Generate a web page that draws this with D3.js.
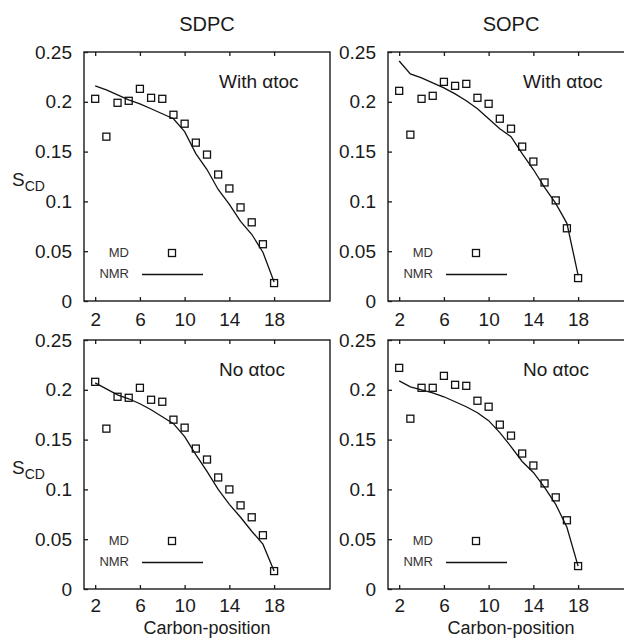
<!DOCTYPE html>
<html>
<head>
<meta charset="utf-8">
<script src="https://cdn.jsdelivr.net/npm/d3@7"></script>
<style>
  body { margin: 0; background: #fff; }
  text { font-family: "Liberation Sans", Arial, sans-serif; fill: #1a1a1a; }
</style>
</head>
<body>
<div id="canvas"></div>
<script>
// carbon positions along the chain
var carbons = [2, 3, 4, 5, 6, 7, 8, 9, 10, 11, 12, 13, 14, 15, 16, 17, 18];

// MD order parameters, one array per panel
var mdSdpcWith = [0.203, 0.165, 0.199, 0.201, 0.213, 0.204, 0.203, 0.187, 0.178, 0.159, 0.147, 0.127, 0.113, 0.094, 0.079, 0.057, 0.018];
var mdSopcWith = [0.211, 0.167, 0.203, 0.206, 0.220, 0.216, 0.218, 0.204, 0.198, 0.183, 0.173, 0.155, 0.140, 0.119, 0.101, 0.073, 0.023];
var mdSdpcNo = [0.208, 0.161, 0.193, 0.192, 0.202, 0.190, 0.188, 0.170, 0.162, 0.141, 0.130, 0.112, 0.100, 0.084, 0.072, 0.054, 0.018];
var mdSopcNo = [0.222, 0.171, 0.202, 0.202, 0.214, 0.205, 0.204, 0.189, 0.183, 0.165, 0.154, 0.136, 0.124, 0.106, 0.092, 0.069, 0.023];

// NMR order parameters
var nmrSdpcWith = [0.216, 0.212, 0.207, 0.202, 0.198, 0.193, 0.188, 0.183, 0.170, 0.148, 0.132, 0.112, 0.097, 0.080, 0.067, 0.049, 0.019];
var nmrSopcWith = [0.241, 0.228, 0.224, 0.219, 0.214, 0.208, 0.201, 0.193, 0.183, 0.173, 0.165, 0.148, 0.132, 0.114, 0.098, 0.078, 0.026];
var nmrSdpcNo = [0.207, 0.201, 0.195, 0.191, 0.186, 0.180, 0.173, 0.166, 0.153, 0.135, 0.118, 0.100, 0.085, 0.072, 0.058, 0.045, 0.018];
var nmrSopcNo = [0.209, 0.203, 0.200, 0.197, 0.193, 0.188, 0.183, 0.177, 0.169, 0.157, 0.143, 0.128, 0.117, 0.102, 0.085, 0.062, 0.023];

var xTicks = [2, 6, 10, 14, 18];
var yTicks = [0, 0.05, 0.1, 0.15, 0.2, 0.25];
var lipids = ["SDPC", "SOPC"];
var rowLabels = ["With \u03B1toc", "No \u03B1toc"];

var width = 624, height = 638;
var pw = 246, ph = 249;
var lefts = [84, 388], tops = [52, 340];

var panels = [
  { row: 0, col: 0, md: mdSdpcWith, nmr: nmrSdpcWith },
  { row: 0, col: 1, md: mdSopcWith, nmr: nmrSopcWith },
  { row: 1, col: 0, md: mdSdpcNo, nmr: nmrSdpcNo },
  { row: 1, col: 1, md: mdSopcNo, nmr: nmrSopcNo }
];

var svg = d3.select("#canvas").append("svg")
  .attr("width", width).attr("height", height);

var x = d3.scaleLinear().domain([1, 23]).range([0, pw]);
var y = d3.scaleLinear().domain([0, 0.25]).range([ph, 0]);

var fmt = d => (d === 0 ? "0" : String(+d.toFixed(2)));

// column titles
lipids.forEach((name, i) => {
  svg.append("text")
    .attr("x", lefts[i] + pw / 2).attr("y", 31)
    .attr("text-anchor", "middle")
    .attr("font-size", 20)
    .text(name);
});

panels.forEach(p => {
  var g = svg.append("g")
    .attr("transform", "translate(" + lefts[p.col] + "," + tops[p.row] + ")");

  // y axis (inward ticks)
  var ya = g.append("g").call(d3.axisLeft(y).tickValues(yTicks).tickFormat(fmt)
    .tickSizeInner(-4).tickSizeOuter(0).tickPadding(12));
  // x axis bottom + mirrored top ticks
  var xa = g.append("g").attr("transform", "translate(0," + ph + ")")
    .call(d3.axisBottom(x).tickValues(xTicks).tickSizeInner(-4).tickSizeOuter(0)
      .tickPadding(p.row === 0 ? 12 : 10));
  var xt = g.append("g")
    .call(d3.axisTop(x).tickValues(xTicks).tickSizeInner(-4).tickSizeOuter(0).tickFormat(""));
  [ya, xa, xt].forEach(a => {
    a.select(".domain").remove();
    a.selectAll("line").attr("stroke", "#1a1a1a").attr("stroke-width", 1.3);
    a.selectAll("text").attr("font-size", 19).attr("font-family", "Liberation Sans, Arial, sans-serif").attr("fill", "#1a1a1a");
  });

  // frame
  g.append("rect")
    .attr("width", pw).attr("height", ph)
    .attr("fill", "none").attr("stroke", "#1a1a1a").attr("stroke-width", 1.4);

  // NMR line
  var line = d3.line().x((d, i) => x(carbons[i])).y(d => y(d));
  g.append("path").datum(p.nmr)
    .attr("d", line)
    .attr("fill", "none").attr("stroke", "#111").attr("stroke-width", 1.3);

  // MD squares
  g.selectAll(".md").data(p.md).enter().append("rect")
    .attr("class", "md")
    .attr("x", (d, i) => x(carbons[i]) - 3.5)
    .attr("y", d => y(d) - 3.5)
    .attr("width", 7).attr("height", 7)
    .attr("fill", "none").attr("stroke", "#111").attr("stroke-width", 1.3);

  // panel label
  g.append("text")
    .attr("x", 135).attr("y", 36)
    .attr("font-size", 19)
    .text(rowLabels[p.row]);

  // legend
  g.append("text").attr("x", 45).attr("y", 205)
    .attr("text-anchor", "end").attr("font-size", 13).style("fill", "#333")
    .text("MD");
  g.append("rect").attr("x", 88 - 3.5).attr("y", 201 - 3.5)
    .attr("width", 7).attr("height", 7)
    .attr("fill", "none").attr("stroke", "#111").attr("stroke-width", 1.3);
  g.append("text").attr("x", 45).attr("y", 226)
    .attr("text-anchor", "end").attr("font-size", 13).style("fill", "#333")
    .text("NMR");
  g.append("line").attr("x1", 58).attr("x2", 119).attr("y1", 222.5).attr("y2", 222.5)
    .attr("stroke", "#111").attr("stroke-width", 1.3);

  // y label on left column
  if (p.col === 0) {
    var lab = svg.append("text")
      .attr("x", 12).attr("y", tops[p.row] + 134)
      .attr("font-size", 19);
    lab.append("tspan").text("S");
    lab.append("tspan").attr("font-size", 14).attr("dy", 5).text("CD");
  }
  // x label on bottom row
  if (p.row === 1) {
    svg.append("text")
      .attr("x", lefts[p.col] + 123).attr("y", 634)
      .attr("text-anchor", "middle").attr("font-size", 18)
      .text("Carbon-position");
  }
});
</script>
</body>
</html>
